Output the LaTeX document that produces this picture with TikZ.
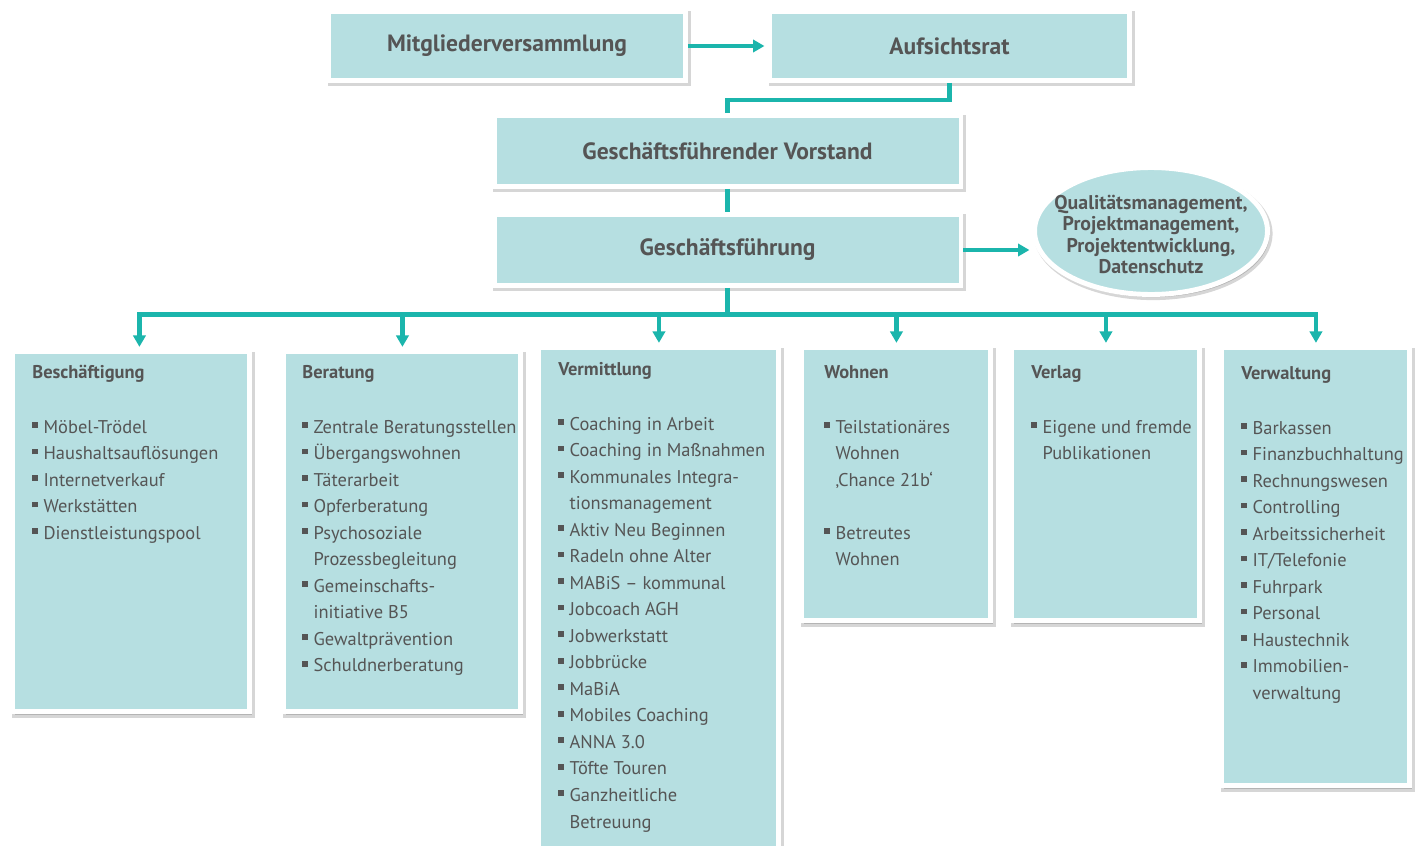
\documentclass[tikz,border=0pt]{standalone}
\usepackage{fontspec}
\setmainfont{PT Sans}
\usepackage{xcolor}
\usepackage{tikz}
\usetikzlibrary{positioning,arrows.meta,shadows,shapes.geometric}
\definecolor{boxteal}{HTML}{B6DFE1}
\definecolor{lineteal}{HTML}{1BB5AC}
\definecolor{textgray}{HTML}{555555}
\newcommand{\bul}{\makebox[6.4pt][l]{\rule[3pt]{3.3pt}{3.3pt}}}
\newcommand{\wrapin}{\hspace*{6.4pt}}
\tikzset{
	board/.style={draw=white, line width=2.8pt, fill=boxteal, text=textgray, inner sep=0pt,
		drop shadow={shadow xshift=1.2pt, shadow yshift=-1.5pt, opacity=0.16, fill=black, draw=black, line width=3.4pt},
		font=\bfseries\fontsize{13.4}{15}\selectfont},
	dept/.style={board, anchor=north west},
	deptext/.style={anchor=north west, inner sep=0pt, align=left, text=textgray, font=\fontsize{10.5}{15.1}\selectfont},
	link/.style={draw=lineteal, line width=2.6pt},
	arrowlink/.style={link, -{Triangle[width=7pt,length=6.5pt]}, shorten >=1.5pt}
}

\begin{document}
\begin{tikzpicture}[x=0.02cm, y=-0.02cm]
	\useasboundingbox (0,0) rectangle (1416,845);

	\node[board, minimum width=7.14cm, minimum height=1.38cm] (mv) at (507,46) {Mitgliederversammlung};
	\node[board, minimum width=7.2cm, minimum height=1.38cm] (ar) at (949.5,46) {Aufsichtsrat};
	\node[board, minimum width=9.34cm, minimum height=1.42cm] (gv) at (727.5,151) {Geschäftsführender Vorstand};
	\node[board, minimum width=9.34cm, minimum height=1.42cm] (gf) at (727.5,250) {Geschäftsführung};
	\node[board, ellipse, minimum width=4.66cm, minimum height=2.54cm, inner xsep=-0.4cm, inner ysep=0pt, align=center,
		font=\bfseries\fontsize{11.3}{12.1}\selectfont] (qm) at (1151,231)
		{\rule{0pt}{12pt}Qualitätsmanagement,\\Projektmanagement,\\Projektentwicklung,\\Datenschutz};

	\node[dept, minimum width=4.74cm, minimum height=7.2cm] (d1) at (10.5,349.5) {};
	\node[dept, minimum width=4.74cm, minimum height=7.2cm] (d2) at (281.5,349.5) {};
	\node[dept, minimum width=4.8cm, minimum height=10.2cm] (d3) at (536.5,345.5) {};
	\node[dept, minimum width=3.78cm, minimum height=5.46cm] (d4) at (799.5,345.5) {};
	\node[dept, minimum width=3.76cm, minimum height=5.46cm] (d5) at (1009.5,345.5) {};
	\node[dept, minimum width=3.76cm, minimum height=8.76cm] (d6) at (1219.5,345.5) {};

	\node[deptext] (t1) at (32,359.3) {\textbf{\strut Beschäftigung}\\[16.1pt]
		\bul Möbel-Trödel\\
		\bul Haushaltsauflösungen\\
		\bul Internetverkauf\\
		\bul Werkstätten\\
		\bul Dienstleistungspool};
	\node[deptext] (t2) at (302,359.3) {\textbf{\strut Beratung}\\[16.1pt]
		\bul Zentrale Beratungsstellen\\
		\bul Übergangswohnen\\
		\bul Täterarbeit\\
		\bul Opferberatung\\
		\bul Psychosoziale\\
		\wrapin Prozessbegleitung\\
		\bul Gemeinschafts-\\
		\wrapin initiative B5\\
		\bul Gewaltprävention\\
		\bul Schuldnerberatung};
	\node[deptext] (t3) at (558,356.3) {\textbf{\strut Vermittlung}\\[16.1pt]
		\bul Coaching in Arbeit\\
		\bul Coaching in Maßnahmen\\
		\bul Kommunales Integra-\\
		\wrapin tionsmanagement\\
		\bul Aktiv Neu Beginnen\\
		\bul Radeln ohne Alter\\
		\bul MABiS – kommunal\\
		\bul Jobcoach AGH\\
		\bul Jobwerkstatt\\
		\bul Jobbrücke\\
		\bul MaBiA\\
		\bul Mobiles Coaching\\
		\bul ANNA 3.0\\
		\bul Töfte Touren\\
		\bul Ganzheitliche\\
		\wrapin Betreuung};
	\node[deptext] (t4) at (824,359.3) {\textbf{\strut Wohnen}\\[16.1pt]
		\bul Teilstationäres\\
		\wrapin Wohnen\\
		\wrapin ‚Chance 21b‘\\[15.1pt]
		\bul Betreutes\\
		\wrapin Wohnen};
	\node[deptext] (t5) at (1031,359.3) {\textbf{\strut Verlag}\\[16.1pt]
		\bul Eigene und fremde\\
		\wrapin Publikationen};
	\node[deptext] (t6) at (1241,360.3) {\textbf{\strut Verwaltung}\\[16.1pt]
		\bul Barkassen\\
		\bul Finanzbuchhaltung\\
		\bul Rechnungswesen\\
		\bul Controlling\\
		\bul Arbeitssicherheit\\
		\bul IT/Telefonie\\
		\bul Fuhrpark\\
		\bul Personal\\
		\bul Haustechnik\\
		\bul Immobilien-\\
		\wrapin verwaltung};

	\draw[arrowlink] (mv) -- (ar);
	\draw[link] (ar.south) -- ++(0,17) -| (gv.north);
	\draw[link] (gv) -- (gf);
	\draw[arrowlink] (gf.east) -- (gf.east -| qm.west);
	\draw[link] (gf.south) -- ++(0,26.5) coordinate (hub);
	\draw[arrowlink] (hub) -| ([xshift=0.16cm]d1.north);
	\draw[arrowlink] (hub) -| (d2.north);
	\draw[arrowlink] (hub) -| (d3.north);
	\draw[arrowlink] (hub) -| (d4.north);
	\draw[arrowlink] (hub) -| (d5.north);
	\draw[arrowlink] (hub) -| (d6.north);
\end{tikzpicture}
\end{document}
